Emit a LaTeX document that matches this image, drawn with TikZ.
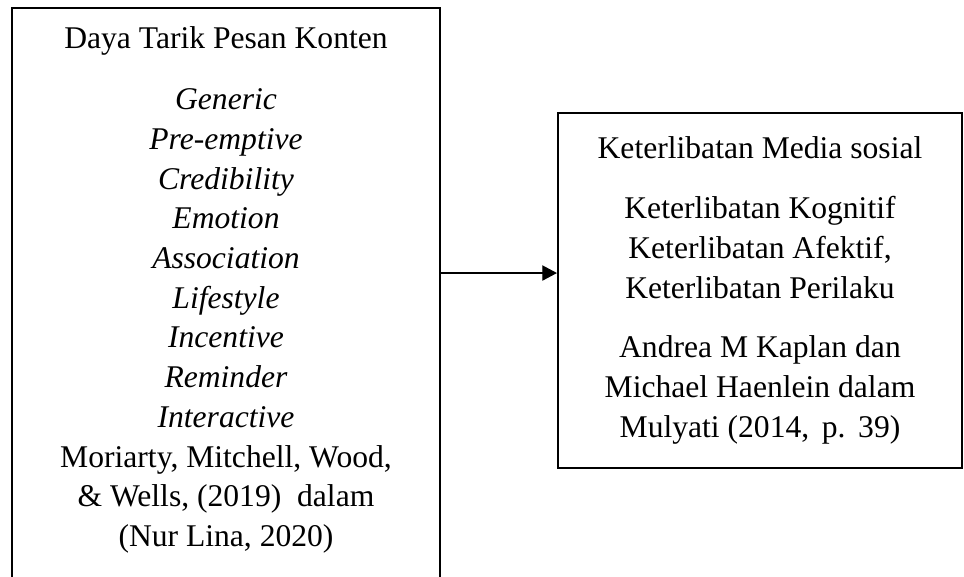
\documentclass[tikz,border=0pt]{standalone}
\usepackage{fontspec}
\setmainfont{Liberation Serif}
\usepackage{xcolor}
\usetikzlibrary{arrows.meta,positioning}
\definecolor{INK}{HTML}{000000}

\begin{document}
\begin{tikzpicture}[
  x=0.75pt, y=-0.75pt,
  font=\fontsize{23.7pt}{29.8pt}\selectfont,
  frame/.style={draw=INK, line width=1.6pt, inner sep=0pt},
  isi/.style={align=center, text=INK, inner sep=0pt},
  panah/.style={-{Triangle[length=11pt, width=11.5pt]}, draw=INK, line width=0.9pt},
]
\useasboundingbox (0,0) rectangle (964,577);
\clip (0,0) rectangle (964,577);

% ===== LEFT: daya tarik pesan =====
\node[frame, anchor=north, minimum width=321pt, minimum height=490pt] (kiri) at (226,7) {};
\node[isi, anchor=north] (kiriteks) at (226,26.3)
  {Daya Tarik Pesan Konten\\[16pt]
   \textit{Generic}\\ \textit{Pre-emptive}\\ \textit{Credibility}\\
   \textit{Emotion}\\ \textit{Association}\\ \textit{Lifestyle}\\
   \textit{Incentive}\\ \textit{Reminder}\\ \textit{Interactive}\\
   Moriarty, Mitchell, Wood,\\ \&~Wells, (2019)\ \ dalam\\ (Nur Lina, 2020)};

% ===== RIGHT: keterlibatan =====
\node[frame, isi, minimum width=303pt, minimum height=266.25pt] (kanan) at (760,290.5)
  {Keterlibatan Media sosial\\[15pt]
   Keterlibatan Kognitif\\ Keterlibatan Afektif,\\ Keterlibatan Perilaku\\[15pt]
   Andrea M Kaplan dan\\ Michael Haenlein dalam\\
   Mulyati (2014,\hspace{0.4em}p.\hspace{0.4em}39)};

% arrow
\coordinate (ujung) at ([yshift=13.1pt]kanan.west);
\draw[panah] (kiri.east |- ujung) -- (ujung);

\end{tikzpicture}
\end{document}
